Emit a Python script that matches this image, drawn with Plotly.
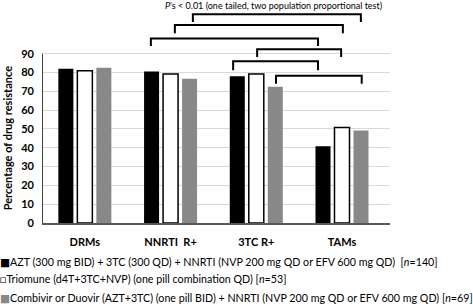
import plotly.graph_objects as go

categories = ["DRMs", "NNRTI  R+", "3TC R+", "TAMs"]
series_names = [
    "AZT (300 mg BID) + 3TC (300 QD) + NNRTI (NVP 200 mg QD or EFV 600 mg QD)  [<i>n</i>=140]",
    "Triomune (d4T+3TC+NVP) (one pill combination QD) [<i>n</i>=53]",
    "Combivir or Duovir (AZT+3TC) (one pill BID) + NNRTI (NVP 200 mg QD or EFV 600 mg QD) [<i>n</i>=69]",
]
azt_values = [82.0, 80.6, 78.0, 40.8]
triomune_values = [81.0, 79.2, 79.2, 50.8]
combivir_values = [82.6, 76.7, 72.4, 49.2]
y_ticks = [0, 10, 20, 30, 40, 50, 60, 70, 80, 90]

# significance brackets: (x start, x end, top y, leg bottom y) in axis units
brackets = [
    (1.26, 3.22, 111.0, 106.9),
    (1.05, 3.01, 105.3, 100.9),
    (0.77, 2.72, 98.1, 94.1),
    (2.01, 2.99, 92.4, 88.3),
    (1.73, 2.72, 86.0, 81.2),
    (2.23, 3.23, 78.3, 74.1),
]

xs = list(range(len(categories)))
fig = go.Figure()
fig.add_trace(go.Bar(x=xs, y=azt_values, name=series_names[0],
                     marker=dict(color="#000000", line=dict(width=0))))
fig.add_trace(go.Bar(x=xs, y=triomune_values, name=series_names[1],
                     marker=dict(color="#ffffff", line=dict(color="#000000", width=1.5))))
fig.add_trace(go.Bar(x=xs, y=combivir_values, name=series_names[2],
                     marker=dict(color="#888888", line=dict(width=0))))

font_family = "Lato, 'DejaVu Sans', sans-serif"

shapes = []
# y axis line from 0 to 90
shapes.append(dict(type="line", xref="x", yref="y", x0=-0.5, x1=-0.5, y0=0, y1=max(y_ticks),
                   line=dict(color="#000000", width=1.5)))
for (xa, xb, yt, yb) in brackets:
    shapes.append(dict(type="path", xref="x", yref="y",
                       path=f"M {xa},{yb} L {xa},{yt} L {xb},{yt} L {xb},{yb}",
                       line=dict(color="#000000", width=2)))

annotations = []
annotations.append(dict(xref="paper", yref="y", x=0, y=45, xanchor="center", yanchor="middle",
                        xshift=-35, textangle=-90, showarrow=False,
                        text="<b>Percentage of drug resistance</b>",
                        font=dict(size=11, color="#000000", family=font_family)))
annotations.append(dict(xref="x", yref="y", x=2.2, y=115.6, xanchor="center", yanchor="middle",
                        showarrow=False,
                        text="<i>P</i>'s &lt; 0.01 (one tailed, two population proportional test)",
                        font=dict(size=9, color="#000000", family=font_family)))
legend_marks = ['<span style="color:#000000">■</span>',
                '<span style="color:#000000">□</span>',
                '<span style="color:#888888">■</span>']
legend_y = [-0.175, -0.252, -0.337]
for mark, name, ly in zip(legend_marks, series_names, legend_y):
    annotations.append(dict(xref="paper", yref="paper", x=0, y=ly, xanchor="left", yanchor="middle",
                            xshift=-44, showarrow=False, text=mark + name,
                            font=dict(size=10.7, color="#000000", family=font_family)))

fig.update_layout(
    width=473, height=304,
    margin=dict(l=42, r=83, t=2, b=81),
    paper_bgcolor="#ffffff", plot_bgcolor="#ffffff",
    barmode="group", bargap=0.335, bargroupgap=0.21,
    showlegend=False,
    shapes=shapes, annotations=annotations,
    font=dict(family=font_family, size=11, color="#000000"),
    xaxis=dict(range=[-0.5, 3.56], tickvals=xs, ticktext=["<b>" + c + "</b>" for c in categories],
               showgrid=False, zeroline=False, showline=True, linecolor="#595959", linewidth=1.5,
               ticks="", ticklabelstandoff=8, tickfont=dict(size=11, color="#000000")),
    yaxis=dict(range=[0, 117.5], tickvals=y_ticks, ticktext=[f"<b>{v}</b>" for v in y_ticks],
               showgrid=True, gridcolor="#d9d9d9",
               gridwidth=1, zeroline=False, showline=False, ticks="",
               ticklabelstandoff=7, tickfont=dict(size=11, color="#000000")),
)
fig.write_html("out.html", config={"displayModeBar": False},
               post_script="document.body.style.margin='0';")
